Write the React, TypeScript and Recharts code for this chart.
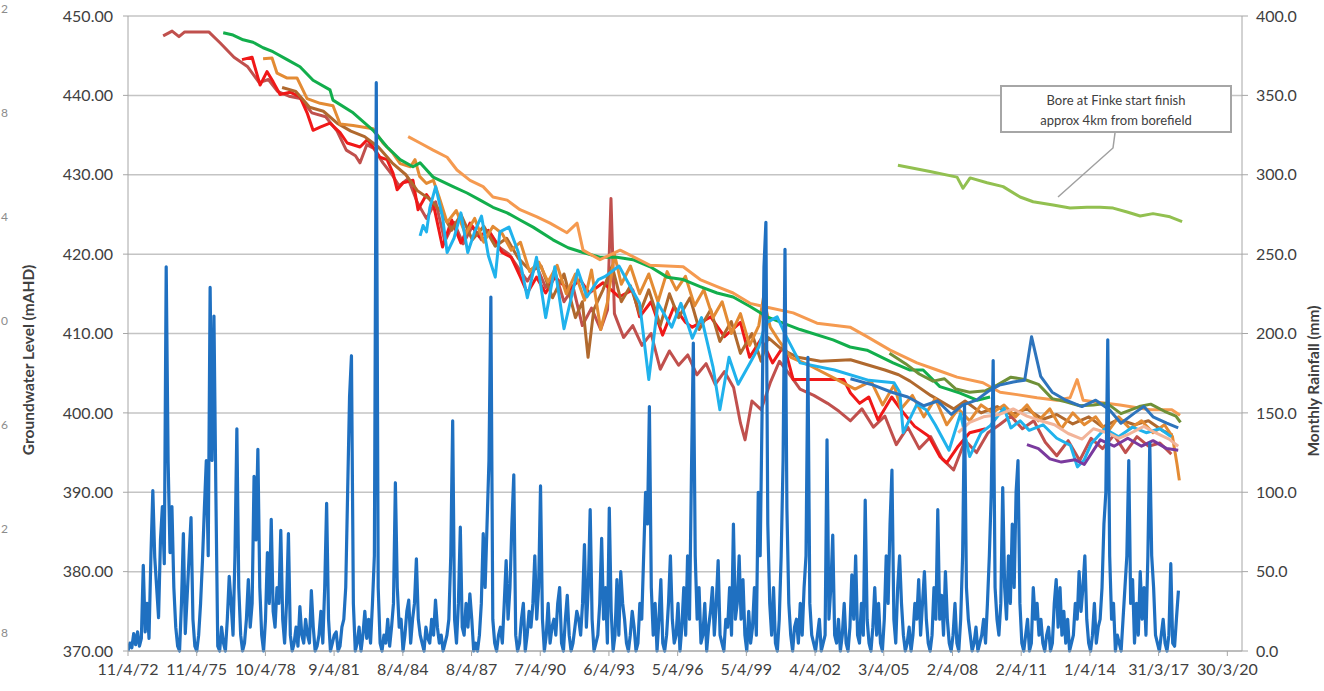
import React from 'react';
import { LineChart, Line, XAxis, YAxis, CartesianGrid } from 'recharts';

const xTickLabels = [
  '11/4/72', '11/4/75', '10/4/78', '9/4/81', '8/4/84', '8/4/87', '7/4/90', '6/4/93', '5/4/96',
  '5/4/99', '4/4/02', '3/4/05', '2/4/08', '2/4/11', '1/4/14', '31/3/17', '30/3/20',
];
const levelTicks = [370, 380, 390, 400, 410, 420, 430, 440, 450];
const rainTicks = [0, 50, 100, 150, 200, 250, 300, 350, 400];

// monthly rainfall (mm), one value per month from the first axis date
const monthlyRainfall = [
  0, 5, 2, 11, 4, 12, 3, 8,
  54, 12, 30, 8, 60, 101, 59, 40, 21, 70, 91, 55,
  242, 120, 62, 91, 40, 15, 3, 0, 30, 74, 11, 35,
  60, 84, 20, 3, 0, 10, 30, 57, 90, 120, 60, 229,
  120, 211, 100, 3, 0, 15, 5, 0, 20, 47, 30, 10,
  60, 140, 40, 10, 0, 5, 20, 45, 15, 30, 110, 70,
  127, 40, 10, 0, 20, 62, 30, 83, 25, 15, 40, 30,
  76, 20, 5, 30, 74, 10, 0, 5, 15, 3, 28, 10,
  5, 20, 10, 5, 38, 15, 0, 3, 10, 25, 5, 40,
  93, 20, 0, 5, 10, 12, 0, 3, 15, 20, 40, 100,
  160, 186, 30, 0, 5, 15, 0, 10, 25, 8, 20, 5,
  30, 60, 358, 40, 5, 0, 10, 5, 20, 3, 15, 30,
  106, 40, 15, 20, 0, 10, 25, 32, 5, 20, 30, 58,
  20, 10, 5, 0, 15, 8, 5, 20, 10, 32, 15, 5,
  10, 0, 5, 10, 20, 60, 145, 20, 5, 30, 78, 15,
  10, 30, 15, 36, 20, 0, 5, 0, 10, 30, 74, 40,
  80, 120, 223, 20, 5, 0, 10, 15, 5, 30, 57, 20,
  40, 80, 111, 10, 0, 5, 20, 30, 0, 10, 25, 15,
  30, 60, 20, 40, 104, 20, 0, 10, 30, 5, 15, 20,
  10, 30, 40, 5, 0, 20, 35, 10, 0, 5, 15, 25,
  20, 10, 30, 67, 15, 40, 89, 20, 0, 5, 10, 30,
  71, 20, 40, 5, 90, 25, 0, 10, 45, 10, 50, 30,
  20, 5, 0, 10, 25, 15, 0, 5, 30, 20, 60, 100,
  80, 154, 40, 10, 30, 0, 20, 45, 5, 0, 10, 30,
  60, 20, 5, 10, 30, 0, 15, 40, 10, 60, 20, 110,
  194, 60, 20, 40, 5, 10, 30, 0, 15, 25, 40, 10,
  30, 57, 10, 5, 0, 20, 15, 40, 10, 80, 20, 30,
  60, 20, 45, 10, 0, 25, 5, 15, 40, 10, 100, 60,
  150, 242, 270, 80, 30, 10, 40, 5, 0, 20, 60, 120,
  253, 90, 30, 10, 0, 15, 20, 5, 30, 10, 40, 60,
  185, 30, 10, 5, 0, 10, 20, 0, 5, 10, 133, 20,
  40, 73, 10, 5, 20, 0, 10, 30, 5, 0, 15, 48,
  20, 60, 10, 5, 30, 10, 95, 20, 5, 0, 15, 40,
  10, 30, 5, 0, 20, 60, 30, 80, 114, 20, 5, 40,
  60, 30, 10, 0, 5, 15, 0, 10, 30, 20, 45, 10,
  30, 50, 20, 5, 0, 10, 40, 20, 89, 20, 35, 10,
  50, 20, 5, 0, 10, 30, 5, 0, 20, 60, 155, 40,
  20, 10, 0, 5, 15, 0, 5, 10, 20, 5, 30, 60,
  100, 183, 40, 20, 10, 30, 103, 40, 20, 60, 30, 80,
  40, 100, 120, 30, 5, 0, 10, 20, 0, 5, 40, 20,
  30, 10, 20, 5, 0, 10, 15, 0, 5, 30, 45, 15,
  40, 10, 25, 5, 20, 0, 5, 10, 30, 20, 50, 25,
  40, 60, 20, 5, 0, 10, 30, 5, 15, 20, 40, 80,
  100, 196, 60, 20, 30, 0, 10, 5, 0, 20, 40, 60,
  120, 30, 45, 5, 30, 10, 50, 20, 40, 10, 60, 131,
  60, 40, 10, 5, 0, 10, 20, 5, 0, 10, 55, 5,
  3, 21, 38,
];

// groundwater levels (mAHD) as [decimal year, level]
const boreBrownRed = [
  [1973.81, 447.5], [1974.2, 448.1], [1974.5, 447.4], [1974.75, 448.0], [1975.8, 448.0], [1976.3, 446.6],
  [1976.9, 444.8], [1977.5, 443.6], [1978.0, 441.6], [1978.4, 442.0], [1978.8, 440.5], [1979.3, 439.9],
  [1979.8, 439.6], [1980.3, 437.8], [1980.9, 437.3], [1981.4, 435.5], [1981.8, 433.1], [1982.2, 432.4],
  [1982.4, 431.5], [1982.7, 433.8], [1983.0, 433.3], [1983.4, 431.5], [1983.8, 430.0], [1984.1, 428.6],
  [1984.5, 429.5], [1984.9, 426.5], [1985.3, 424.5], [1985.7, 426.6], [1986.1, 421.6], [1986.5, 424.0],
  [1986.9, 421.3], [1987.3, 423.5], [1987.7, 421.8], [1988.1, 422.6], [1988.5, 420.8], [1988.9, 420.0],
  [1989.3, 418.3], [1989.7, 416.6], [1990.1, 418.5], [1990.5, 415.8], [1990.9, 417.8], [1991.3, 414.0],
  [1991.7, 415.8], [1992.1, 411.0], [1992.5, 413.2], [1992.9, 410.5], [1993.2, 413.0], [1993.35, 427.0],
  [1993.5, 412.5], [1993.9, 409.5], [1994.3, 411.0], [1994.7, 408.5], [1995.1, 410.0], [1995.5, 405.5],
  [1995.9, 407.8], [1996.3, 406.0], [1996.7, 407.3], [1997.1, 404.8], [1997.5, 406.2], [1997.9, 403.6],
  [1998.3, 405.2], [1998.7, 403.2], [1999.0, 398.7], [1999.2, 396.6], [1999.5, 401.5], [1999.9, 400.4],
  [2000.3, 403.8], [2000.7, 406.5], [2001.1, 405.0], [2001.6, 403.0], [2002.2, 402.2], [2002.8, 401.2],
  [2003.3, 400.2], [2003.8, 399.0], [2004.3, 400.5], [2004.8, 398.2], [2005.3, 399.6], [2005.8, 396.0],
  [2006.3, 398.2], [2006.8, 395.5], [2007.3, 397.0], [2007.8, 394.2], [2008.3, 392.8], [2008.8, 396.5],
  [2009.3, 395.0], [2009.8, 397.5], [2010.3, 398.5], [2010.8, 399.6], [2011.3, 398.0], [2011.8, 399.0],
  [2012.3, 396.3], [2012.8, 394.6], [2013.3, 396.5], [2013.8, 394.0], [2014.3, 396.8], [2014.8, 395.5],
  [2015.3, 397.2], [2015.8, 395.0], [2016.3, 397.0], [2016.8, 395.8], [2017.3, 396.2], [2017.8, 394.8],
];

const boreRed = [
  [1977.25, 444.5], [1977.69, 444.8], [1978.04, 441.3], [1978.34, 443.0], [1978.61, 441.7], [1978.91, 440.1],
  [1979.35, 440.4], [1979.78, 439.8], [1980.09, 437.8], [1980.35, 435.6], [1980.66, 436.0], [1981.09, 436.5],
  [1981.53, 435.3], [1981.84, 434.0], [1982.4, 433.5], [1982.71, 434.4], [1982.97, 433.5], [1983.27, 432.2],
  [1983.58, 431.9], [1983.84, 430.2], [1984.02, 428.1], [1984.28, 429.0], [1984.71, 429.3], [1984.93, 425.6],
  [1985.3, 427.5], [1985.6, 426.3], [1986.0, 420.9], [1986.4, 424.3], [1986.8, 421.4], [1987.2, 423.9],
  [1987.6, 422.2], [1988.0, 423.0], [1988.6, 420.2], [1989.0, 419.6], [1989.4, 417.1], [1989.7, 415.1],
  [1990.1, 417.1], [1990.5, 415.1], [1990.9, 417.1], [1991.5, 415.5], [1992.0, 416.8], [1992.4, 415.1],
  [1993.0, 416.4], [1993.7, 414.6], [1994.3, 415.5], [1994.6, 412.1], [1995.1, 414.0], [1995.6, 409.8],
  [1996.1, 413.4], [1996.6, 411.4], [1996.9, 410.8], [1997.7, 412.1], [1998.3, 409.6], [1999.0, 411.4],
  [1999.4, 407.0], [1999.9, 409.3], [2000.4, 406.3], [2000.9, 408.5], [2001.3, 404.2], [2003.5, 404.2],
  [2003.8, 402.5], [2004.2, 401.2], [2004.6, 402.0], [2005.0, 399.1], [2005.6, 402.0], [2006.0, 400.4],
  [2006.6, 398.3], [2007.2, 397.1], [2007.7, 394.5], [2008.0, 393.7], [2008.5, 395.8], [2009.0, 397.5],
  [2009.7, 398.0],
];

const boreBrown = [
  [1979.0, 441.0], [1979.6, 440.5], [1980.2, 438.5], [1980.8, 438.0], [1981.4, 436.5], [1982.0, 435.5],
  [1982.6, 434.8], [1983.2, 433.5], [1983.8, 431.5], [1984.4, 430.0], [1984.9, 428.0], [1985.4, 427.0],
  [1985.9, 425.5], [1986.4, 423.0], [1986.8, 425.0], [1987.3, 421.8], [1987.8, 423.5], [1988.3, 421.0],
  [1988.8, 422.0], [1989.3, 419.5], [1989.8, 418.0], [1990.3, 418.5], [1990.8, 414.5], [1991.3, 417.5],
  [1991.8, 412.0], [1992.1, 414.0], [1992.35, 407.0], [1992.6, 413.0], [1993.0, 415.5], [1993.4, 418.5],
  [1993.8, 414.0], [1994.2, 416.0], [1994.6, 412.5], [1995.0, 415.5], [1995.5, 411.0], [1995.9, 415.0],
  [1996.3, 412.0], [1996.8, 414.5], [1997.2, 410.5], [1997.7, 413.0], [1998.1, 409.0], [1998.6, 411.5],
  [1999.0, 407.5], [1999.5, 410.0], [1999.9, 406.5], [2000.2, 409.5], [2000.8, 408.0], [2001.5, 407.0],
  [2002.5, 406.5], [2003.8, 406.7], [2005.3, 405.4], [2005.9, 404.8], [2006.4, 404.0], [2007.3, 402.2],
  [2008.3, 400.5], [2008.8, 401.5], [2009.5, 400.0], [2010.2, 400.8], [2010.8, 399.8], [2011.5, 400.5],
  [2012.2, 399.2], [2012.8, 399.8], [2013.5, 398.6], [2014.2, 399.5], [2014.8, 398.2], [2015.5, 399.2],
  [2016.2, 398.5], [2016.8, 399.0], [2017.4, 397.8], [2017.85, 397.2],
];

const boreTan = [
  [1978.17, 444.6], [1978.56, 444.7], [1978.78, 442.8], [1979.2, 442.2], [1979.65, 442.2], [1980.09, 439.6],
  [1980.66, 439.0], [1981.22, 438.7], [1981.53, 436.4], [1982.1, 436.2], [1982.97, 435.8], [1983.4, 434.0],
  [1983.84, 432.7], [1984.15, 431.4], [1984.6, 431.0], [1984.8, 431.9], [1985.0, 429.8], [1985.3, 428.9],
  [1985.6, 429.3], [1985.85, 427.2], [1986.2, 424.0], [1986.6, 425.5], [1987.0, 422.5], [1987.4, 424.5],
  [1987.8, 421.5], [1988.2, 423.5], [1988.6, 422.6], [1989.0, 420.5], [1989.4, 421.5], [1989.8, 417.8],
  [1990.2, 419.0], [1990.6, 416.5], [1991.0, 418.6], [1991.4, 415.0], [1991.8, 417.5], [1992.2, 414.2],
  [1992.5, 418.0], [1992.9, 410.5], [1993.2, 414.0], [1993.5, 420.0], [1993.8, 416.2], [1994.2, 418.5],
  [1994.6, 415.0], [1995.0, 417.5], [1995.4, 414.0], [1995.8, 417.8], [1996.2, 415.5], [1996.6, 417.2],
  [1997.0, 413.5], [1997.4, 415.5], [1997.8, 412.0], [1998.2, 414.0], [1998.6, 410.0], [1999.0, 412.5],
  [1999.4, 408.5], [1999.8, 411.0], [2000.0, 414.5], [2000.3, 410.8], [2000.7, 409.0], [2001.2, 407.0],
  [2002.0, 406.0], [2003.0, 404.5], [2004.0, 403.0], [2004.7, 404.0], [2005.2, 401.0], [2005.7, 403.5],
  [2006.0, 400.5], [2006.5, 402.2], [2007.0, 399.5], [2007.5, 401.8], [2008.0, 398.5], [2008.5, 400.5],
  [2009.0, 399.0], [2009.5, 401.0], [2010.0, 400.0], [2010.5, 401.0], [2011.0, 399.5], [2011.5, 401.0],
  [2012.0, 399.0], [2012.5, 400.5], [2013.0, 398.0], [2013.5, 400.0], [2014.0, 398.5], [2014.5, 399.5],
  [2015.0, 397.5], [2015.5, 399.5], [2016.0, 398.0], [2016.5, 399.0], [2017.0, 397.5], [2017.5, 398.5],
  [2017.85, 397.0], [2018.05, 393.5], [2018.15, 391.5],
];

const boreGreen = [
  [1976.43, 447.9], [1976.86, 447.6], [1977.3, 447.0], [1977.73, 446.7], [1978.17, 446.0], [1978.6, 445.5],
  [1979.22, 444.5], [1979.78, 443.6], [1980.35, 441.9], [1981.09, 440.7], [1981.22, 439.4], [1982.1, 437.8],
  [1982.97, 435.6], [1983.58, 433.5], [1984.15, 431.9], [1984.71, 431.0], [1985.02, 431.5], [1985.59, 429.7],
  [1986.46, 428.5], [1987.07, 427.7], [1987.64, 426.8], [1988.2, 425.9], [1988.82, 425.2], [1989.38, 424.3],
  [1989.95, 423.4], [1990.82, 421.8], [1991.48, 420.8], [1992.13, 420.2], [1992.87, 419.6], [1993.61, 419.6],
  [1994.31, 419.3], [1995.06, 418.4], [1995.8, 417.1], [1996.5, 416.8], [1997.24, 415.9], [1997.98, 415.1],
  [1998.68, 414.6], [1999.42, 413.4], [2000.16, 412.1], [2000.86, 411.3], [2001.6, 410.5], [2003.04, 409.2],
  [2003.78, 408.3], [2004.52, 407.9], [2005.66, 406.3], [2006.4, 405.4], [2006.97, 405.4], [2007.7, 403.3],
  [2008.58, 402.5], [2009.32, 401.6], [2009.89, 402.0],
];

const boreOrange = [
  [1984.5, 434.8], [1985.02, 434.0], [1985.59, 433.1], [1986.2, 432.2], [1986.63, 430.6], [1987.2, 429.3],
  [1987.77, 428.5], [1988.2, 427.2], [1988.82, 426.8], [1989.38, 425.6], [1990.12, 424.7], [1990.69, 423.9],
  [1991.43, 422.7], [1991.87, 423.9], [1992.13, 420.5], [1992.87, 419.3], [1993.75, 420.5], [1995.06, 418.6],
  [1996.5, 418.4], [1997.24, 416.8], [1997.98, 415.9], [1998.68, 415.1], [1999.42, 413.8], [2000.16, 413.3],
  [2001.3, 412.6], [2002.34, 411.3], [2003.78, 410.8], [2004.52, 409.6], [2005.53, 407.9], [2006.7, 406.3],
  [2007.58, 405.4], [2008.45, 404.5], [2009.58, 403.8], [2010.33, 402.6], [2011.07, 402.3], [2011.94, 401.9],
  [2012.8, 401.6], [2013.38, 401.9], [2013.69, 404.2], [2013.95, 401.6], [2014.69, 401.3], [2015.56, 401.0],
  [2016.87, 400.4], [2017.82, 400.4], [2018.18, 399.7],
];

const boreLightBlue = [
  [1985.02, 422.3], [1985.15, 423.6], [1985.3, 422.8], [1985.45, 425.9], [1985.7, 428.5], [1986.0, 424.7],
  [1986.2, 420.2], [1986.5, 422.0], [1986.8, 425.2], [1987.1, 420.2], [1987.4, 422.8], [1987.7, 424.8],
  [1988.0, 419.8], [1988.3, 417.1], [1988.5, 422.8], [1988.9, 423.4], [1989.3, 420.3], [1989.7, 414.5],
  [1990.1, 419.6], [1990.5, 412.0], [1990.9, 418.4], [1991.3, 410.6], [1991.9, 418.0], [1992.3, 414.6],
  [1992.8, 416.8], [1993.1, 417.2], [1993.7, 418.5], [1994.1, 416.4], [1994.6, 413.8], [1995.0, 404.2],
  [1995.4, 413.8], [1996.0, 410.8], [1996.4, 413.8], [1996.9, 409.4], [1997.3, 412.0], [1997.8, 405.8],
  [1998.1, 400.4], [1998.5, 407.0], [1998.9, 403.6], [1999.4, 406.2], [1999.8, 408.3], [2000.1, 411.3],
  [2000.6, 412.1], [2001.0, 409.6], [2001.6, 406.3], [2003.1, 405.4], [2004.6, 404.1], [2005.7, 403.8],
  [2005.95, 402.6], [2006.1, 397.5], [2006.7, 401.1], [2007.1, 400.4], [2007.5, 398.5], [2008.1, 395.3],
  [2008.6, 399.9], [2009.0, 394.5], [2009.5, 397.5], [2009.9, 398.4], [2010.5, 400.6], [2010.8, 398.1],
  [2011.2, 399.0], [2011.6, 397.8], [2012.2, 398.5], [2012.8, 396.8], [2013.4, 395.9], [2013.7, 393.2],
  [2014.0, 394.1], [2014.3, 396.1], [2014.9, 398.0], [2015.5, 397.0], [2016.1, 398.2], [2016.7, 397.5],
  [2017.3, 398.0], [2017.8, 397.0],
];

const boreSalmon = [
  [2008.5, 397.5], [2009.0, 398.8], [2009.6, 399.5], [2010.3, 399.8], [2010.9, 400.5], [2011.5, 399.6],
  [2012.1, 399.0], [2012.7, 398.5], [2013.3, 397.4], [2013.9, 396.7], [2014.4, 398.0], [2015.0, 397.5],
  [2015.5, 396.8], [2016.0, 397.4], [2016.6, 398.3], [2017.1, 397.5], [2017.7, 396.7], [2018.1, 395.8],
];

const borePurple = [
  [2011.5, 396.0], [2012.0, 395.5], [2012.5, 394.2], [2013.0, 393.8], [2013.6, 394.1], [2014.0, 393.5],
  [2014.7, 396.6], [2015.3, 395.8], [2015.9, 396.8], [2016.5, 395.8], [2017.0, 396.5], [2017.6, 395.5],
  [2018.1, 395.3],
];

const boreOlive = [
  [2005.5, 407.5], [2006.2, 406.2], [2006.8, 404.9], [2007.4, 404.0], [2007.9, 404.3], [2008.4, 403.0],
  [2009.0, 402.6], [2009.7, 402.8], [2010.2, 403.5], [2010.8, 404.5], [2011.4, 404.2], [2012.0, 403.6],
  [2012.6, 401.8], [2013.2, 401.4], [2013.8, 400.9], [2014.4, 401.0], [2015.0, 401.2], [2015.6, 399.9],
  [2016.4, 400.8], [2016.9, 401.1], [2017.5, 400.2], [2018.0, 399.6], [2018.2, 398.8],
];

const boreDarkBlue = [
  [2003.8, 404.3], [2004.8, 403.5], [2005.6, 402.6], [2006.3, 402.0], [2007.0, 400.9], [2007.6, 401.5],
  [2008.2, 399.8], [2008.7, 401.0], [2009.3, 401.6], [2009.8, 402.7], [2010.3, 403.5], [2010.9, 403.9],
  [2011.4, 404.1], [2011.7, 409.6], [2012.1, 404.6], [2012.6, 402.6], [2013.2, 401.6], [2013.9, 400.8],
  [2014.5, 401.6], [2015.1, 400.4], [2015.6, 398.7], [2016.2, 400.0], [2016.6, 400.8], [2017.0, 399.5],
  [2017.6, 398.7], [2018.1, 398.1],
];

const boreFinke = [
  [2005.87, 431.2], [2007.27, 430.4], [2008.45, 429.7], [2008.71, 428.3], [2009.02, 429.6], [2009.76, 429.0],
  [2010.46, 428.5], [2011.2, 427.2], [2011.77, 426.6], [2012.64, 426.2], [2013.38, 425.8], [2014.12, 425.9],
  [2014.69, 425.9], [2015.26, 425.8], [2015.87, 425.3], [2016.44, 424.8], [2017.0, 425.1], [2017.74, 424.7],
  [2018.27, 424.1],
];

const edgeDigits = ['2', '8', '4', '0', '6', '2', '8'];

const toDecimalYear = (label: string) => {
  const [d, m, yy] = label.split('/').map(Number);
  const y = yy < 50 ? 2000 + yy : 1900 + yy;
  const start = Date.UTC(y, 0, 1);
  const end = Date.UTC(y + 1, 0, 1);
  return y + (Date.UTC(y, m - 1, d) - start) / (end - start);
};

const xTicks = xTickLabels.map(toDecimalYear);
const xMax = xTicks[xTicks.length - 1] + 0.64;
const toPoints = (rows: number[][]) => rows.map(([t, v]) => ({ t, v }));
const rainData = monthlyRainfall.map((mm, i) => ({ t: xTicks[0] + i / 12, v: mm }));

const levelSeries = [
  { key: 'brownred', color: '#C0504D', data: toPoints(boreBrownRed) },
  { key: 'red', color: '#F01818', data: toPoints(boreRed) },
  { key: 'brown', color: '#B0692E', data: toPoints(boreBrown) },
  { key: 'tan', color: '#E38B34', data: toPoints(boreTan) },
  { key: 'green', color: '#12AE4C', data: toPoints(boreGreen) },
  { key: 'orange', color: '#F59A50', data: toPoints(boreOrange) },
  { key: 'lightblue', color: '#20B2EC', data: toPoints(boreLightBlue) },
  { key: 'salmon', color: '#F2B49A', data: toPoints(boreSalmon) },
  { key: 'purple', color: '#7A3A9E', data: toPoints(borePurple) },
  { key: 'olive', color: '#6F9038', data: toPoints(boreOlive) },
  { key: 'darkblue', color: '#2E74BC', data: toPoints(boreDarkBlue) },
  { key: 'finke', color: '#92C050', data: toPoints(boreFinke) },
];

const tickStyle = { fontFamily: 'Lato', fontSize: 16, fill: '#404040' };
const axisGray = '#A6A6A6';

const xLabel = (v: number) => {
  let best = 0;
  xTicks.forEach((t, i) => {
    if (Math.abs(t - v) < Math.abs(xTicks[best] - v)) best = i;
  });
  return xTickLabels[best];
};

export default function App() {
  return (
    <div style={{ position: 'absolute', left: 0, top: 0, width: 1324, height: 691, background: '#fff', overflow: 'hidden' }}>
      <LineChart width={1324} height={691} margin={{ top: 16, right: 0, bottom: 0, left: 0 }}>
        <CartesianGrid vertical={false} yAxisId="level" stroke="#C4C4C4" strokeWidth={1.5} />
        <XAxis
          type="number"
          dataKey="t"
          domain={[xTicks[0], xMax]}
          allowDataOverflow
          ticks={xTicks}
          interval={0}
          tickFormatter={xLabel}
          height={40}
          tick={tickStyle}
          tickSize={5}
          tickMargin={8}
          stroke={axisGray}
        />
        <YAxis
          yAxisId="level"
          orientation="left"
          domain={[370, 450]}
          ticks={levelTicks}
          interval={0}
          width={128}
          tick={tickStyle}
          tickSize={5}
          tickMargin={10}
          tickFormatter={(v: number) => v.toFixed(2)}
          stroke={axisGray}
        />
        <YAxis
          yAxisId="rain"
          orientation="right"
          domain={[0, 400]}
          ticks={rainTicks}
          interval={0}
          width={82}
          tick={tickStyle}
          tickSize={6}
          tickMargin={8}
          tickFormatter={(v: number) => v.toFixed(1)}
          stroke={axisGray}
        />
        {levelSeries.map((s) => (
          <Line
            key={s.key}
            yAxisId="level"
            data={s.data}
            dataKey="v"
            type="linear"
            stroke={s.color}
            strokeWidth={3}
            strokeLinejoin="round"
            dot={false}
            activeDot={false}
            isAnimationActive={false}
          />
        ))}
        <Line
          yAxisId="rain"
          data={rainData}
          dataKey="v"
          type="linear"
          stroke="#1F70C1"
          strokeWidth={3.2}
          strokeLinejoin="round"
          dot={false}
          activeDot={false}
          isAnimationActive={false}
        />
      </LineChart>
      <svg
        width={1324}
        height={691}
        style={{ position: 'absolute', left: 0, top: 0, pointerEvents: 'none' }}
      >
        {edgeDigits.map((d, i) => (
          <text key={i} x={1} y={13 + i * 104} fontFamily="Lato" fontSize={12} fill="#8C8C8C">
            {d}
          </text>
        ))}
        <text
          transform="translate(34, 360) rotate(-90)"
          textAnchor="middle"
          fontFamily="Lato"
          fontWeight="bold"
          fontSize={15.5}
          fill="#404040"
        >
          Groundwater Level (mAHD)
        </text>
        <text
          transform="translate(1319, 381) rotate(-90)"
          textAnchor="middle"
          fontFamily="Lato"
          fontWeight="bold"
          fontSize={15.5}
          fill="#404040"
        >
          Monthly Rainfall (mm)
        </text>
        <polyline points="1115,133 1113,148 1058,197" fill="none" stroke="#A0A0A0" strokeWidth={1.5} />
        <rect x={1001} y={86} width={230} height={46} fill="#fff" stroke="#A6A6A6" strokeWidth={2} />
        <text x={1116} y={105} textAnchor="middle" fontFamily="Lato" fontSize={13} fill="#404040">
          Bore at Finke start finish
        </text>
        <text x={1116} y={125} textAnchor="middle" fontFamily="Lato" fontSize={13} fill="#404040">
          approx 4km from borefield
        </text>
      </svg>
    </div>
  );
}
